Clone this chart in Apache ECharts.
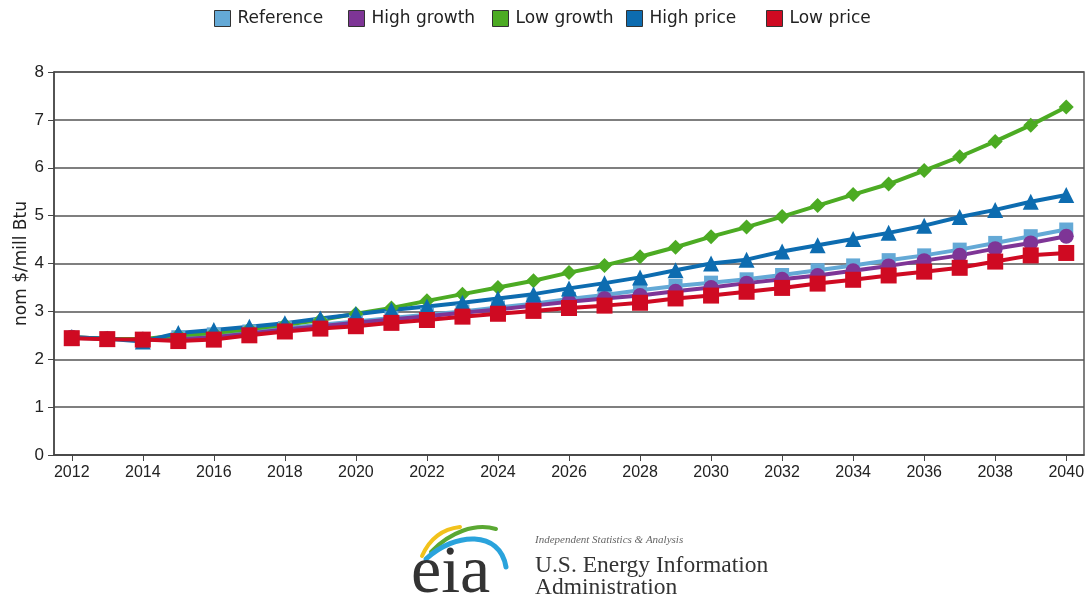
<!DOCTYPE html>
<html>
<head>
<meta charset="utf-8">
<script src="https://cdn.jsdelivr.net/npm/echarts@6/dist/echarts.min.js"></script>
<style>
  html, body { margin: 0; padding: 0; background: #fff; }
  #chart { width: 1089px; height: 598px; }
</style>
</head>
<body>
<div id="chart"></div>
<script>
// Natural gas price projections, nominal dollars per million Btu
const years = [];
for (let y = 2012; y <= 2040; y++) years.push(String(y));

const reference   = [2.45,2.43,2.42,2.46,2.52,2.58,2.65,2.72,2.79,2.86,2.93,3.00,3.08,3.16,3.26,3.34,3.44,3.53,3.60,3.67,3.76,3.86,3.96,4.07,4.17,4.29,4.43,4.57,4.71];
const highGrowth  = [2.46,2.43,2.42,2.42,2.46,2.54,2.62,2.69,2.76,2.83,2.90,2.97,3.04,3.12,3.20,3.27,3.33,3.42,3.50,3.59,3.67,3.75,3.85,3.95,4.06,4.17,4.31,4.43,4.57];
const lowGrowth   = [2.46,2.43,2.42,2.50,2.55,2.63,2.72,2.82,2.95,3.07,3.22,3.36,3.50,3.64,3.81,3.96,4.14,4.34,4.56,4.76,4.98,5.21,5.44,5.66,5.94,6.23,6.55,6.89,7.27];
const highPrice   = [2.46,2.43,2.37,2.55,2.61,2.68,2.75,2.85,2.94,3.03,3.10,3.18,3.27,3.36,3.48,3.59,3.71,3.86,4.00,4.08,4.25,4.38,4.51,4.64,4.79,4.97,5.12,5.29,5.43];
const lowPrice    = [2.44,2.42,2.41,2.38,2.41,2.50,2.58,2.64,2.69,2.76,2.82,2.89,2.95,3.01,3.07,3.12,3.18,3.27,3.33,3.41,3.49,3.58,3.66,3.75,3.83,3.91,4.04,4.17,4.22];

const seriesNames = ['Reference', 'High growth', 'Low growth', 'High price', 'Low price'];
const yTicks = ['0','1','2','3','4','5','6','7','8'];

const FONT = 'Liberation Sans, Arial, sans-serif';
const WIDE = 'DejaVu Sans, Verdana, sans-serif';
const SERIF = 'Liberation Serif, Times New Roman, serif';

function line(name, data, color, symbol, size) {
  return {
    name, type: 'line', data,
    symbol, symbolSize: size,
    lineStyle: { color, width: 4 },
    itemStyle: { color },
    emphasis: { disabled: true },
    animation: false
  };
}

// one legend block per entry so each can sit at its own x position
const legendLeft = [209, 343, 487, 621, 761];
const legends = seriesNames.map((n, i) => ({
  top: 5,
  left: legendLeft[i],
  itemWidth: 16,
  itemHeight: 16,
  icon: 'rect',
  textStyle: { fontSize: 17, color: '#222', fontFamily: WIDE, padding: [0, 0, 0, 2] },
  itemStyle: { borderColor: '#333', borderWidth: 1 },
  data: [n]
}));

const chart = echarts.init(document.getElementById('chart'));
chart.setOption({
  animation: false,
  textStyle: { fontFamily: FONT },
  legend: legends,
  grid: {
    left: 54, right: 5, top: 72, bottom: 143,
    show: true, borderColor: '#555', borderWidth: 1.5, backgroundColor: '#fff'
  },
  xAxis: {
    type: 'category',
    data: years,
    boundaryGap: true,
    axisLine: { lineStyle: { color: '#444', width: 1.5 } },
    axisTick: { show: true, interval: 1, alignWithLabel: true, length: 6, lineStyle: { color: '#444' } },
    axisLabel: { interval: 1, fontSize: 16, color: '#222', margin: 10, fontFamily: FONT }
  },
  yAxis: {
    type: 'value',
    min: 0, max: 8, interval: 1,
    name: 'nom $/mill Btu',
    nameLocation: 'middle',
    nameGap: 24,
    nameMoveOverlap: false,
    nameTextStyle: { fontSize: 17, color: '#222', fontFamily: WIDE },
    axisLine: { show: true, lineStyle: { color: '#444', width: 1.5 } },
    axisTick: { show: true, length: 6, lineStyle: { color: '#444' } },
    axisLabel: { fontSize: 17, color: '#222', margin: 10, fontFamily: FONT,
                 formatter: v => yTicks[v] },
    splitLine: { show: true, lineStyle: { color: '#555', width: 1.5 } }
  },
  series: [
    line(seriesNames[0], reference,  '#64a9d6', 'rect', 14),
    line(seriesNames[1], highGrowth, '#7e3596', 'circle', 15),
    line(seriesNames[2], lowGrowth,  '#4cab23', 'diamond', 15),
    line(seriesNames[3], highPrice,  '#0d6cb0', 'triangle', 16),
    line(seriesNames[4], lowPrice,   '#cf0a22', 'rect', 16)
  ],
  graphic: [
    // eia swoosh arcs
    { type: 'bezierCurve', shape: { x1: 422, y1: 556, cpx1: 430, cpy1: 538, cpx2: 442, cpy2: 529, x2: 460, y2: 527 },
      style: { stroke: '#f2c21b', lineWidth: 4, fill: null, lineCap: 'round' } },
    { type: 'bezierCurve', shape: { x1: 431, y1: 552, cpx1: 450, cpy1: 532, cpx2: 475, cpy2: 523, x2: 496, y2: 529 },
      style: { stroke: '#5aa832', lineWidth: 4, fill: null, lineCap: 'round' } },
    { type: 'bezierCurve', shape: { x1: 426, y1: 559, cpx1: 455, cpy1: 532, cpx2: 500, cpy2: 530, x2: 506, y2: 567 },
      style: { stroke: '#2aa3dc', lineWidth: 5, fill: null, lineCap: 'round' } },
    { type: 'text', left: 411, top: 540,
      style: { text: 'eia', font: '68px ' + SERIF, fill: '#333' } },
    { type: 'text', left: 535, top: 535,
      style: { text: 'Independent Statistics & Analysis', font: 'italic 11px ' + SERIF, fill: '#666' } },
    { type: 'text', left: 535, top: 554,
      style: { text: 'U.S. Energy Information', font: '23.5px ' + SERIF, fill: '#333' } },
    { type: 'text', left: 535, top: 576,
      style: { text: 'Administration', font: '23.5px ' + SERIF, fill: '#333' } }
  ]
});
</script>
</body>
</html>
